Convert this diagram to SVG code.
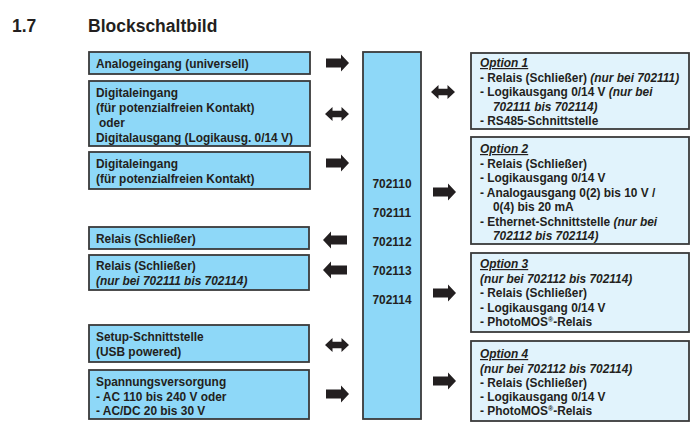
<svg xmlns="http://www.w3.org/2000/svg" width="691" height="428" viewBox="0 0 691 428">
<style>
text{font-family:"Liberation Sans",Arial,Helvetica,sans-serif;font-weight:bold;fill:#231f20;font-size:11.9px}
.title{font-size:17.5px}
.in{fill:#8ed8f8;stroke:#3a3a3a;stroke-width:1.8}
.opt{fill:#e1f3fc;stroke:#3a3a3a;stroke-width:1.8}
.it{font-style:italic}
.u{font-style:italic;text-decoration:underline}
.arr{fill:#231f20}
.sup{font-size:7px}
</style>
<defs>
<path id="ar" d="M0,-4.5 H15 V-8.5 L23,0 L15,8.5 V4.5 H0 Z"/>
<path id="al" d="M0,0 L8,-8.5 V-4.5 H24 V4.5 H8 V8.5 Z"/>
<path id="ad" d="M0,0 L7.5,-7 V-3.2 H16.5 V-7 L24,0 L16.5,7 V3.2 H7.5 V7 Z"/>
</defs>
<text class="title" x="12" y="32">1.7</text>
<text class="title" x="88" y="32">Blockschaltbild</text>

<g id="in1"><rect class="in" x="89" y="52" width="221" height="22"/><text x="96" y="67.5">Analogeingang (universell)</text></g>
<g id="in2"><rect class="in" x="89" y="81" width="221" height="65"/>
<text x="96" y="96.5">Digitaleingang</text><text x="96" y="111.5">(für potenzialfreien Kontakt)</text><text x="99" y="126.5">oder</text><text x="96" y="141.5">Digitalausgang (Logikausg. 0/14 V)</text></g>
<g id="in3"><rect class="in" x="89" y="152" width="221" height="37"/>
<text x="96" y="167.5">Digitaleingang</text><text x="96" y="182.5">(für potenzialfreien Kontakt)</text></g>
<g id="out1"><rect class="in" x="89" y="227" width="220" height="22"/><text x="96" y="242.5">Relais (Schließer)</text></g>
<g id="out2"><rect class="in" x="89" y="255" width="220" height="35"/>
<text x="96" y="270">Relais (Schließer)</text><text class="it" x="96" y="284.5">(nur bei 702111 bis 702114)</text></g>
<g id="setup"><rect class="in" x="89" y="325" width="220" height="37"/>
<text x="96" y="341">Setup-Schnittstelle</text><text x="96" y="356">(USB powered)</text></g>
<g id="power"><rect class="in" x="89" y="370" width="220" height="49"/>
<text x="96" y="385.5">Spannungsversorgung</text><text x="96" y="400.5">- AC 110 bis 240 V oder</text><text x="96" y="415">- AC/DC 20 bis 30 V</text></g>

<g id="device"><rect class="in" x="363" y="52" width="58" height="367"/>
<text x="392" y="188" text-anchor="middle">702110</text>
<text x="392" y="217" text-anchor="middle">702111</text>
<text x="392" y="246" text-anchor="middle">702112</text>
<text x="392" y="275" text-anchor="middle">702113</text>
<text x="392" y="304" text-anchor="middle">702114</text></g>

<g id="opt1"><rect class="opt" x="471" y="53" width="218" height="76"/>
<text class="u" x="480" y="67">Option 1</text>
<text x="480" y="81.5">- Relais (Schließer) <tspan class="it">(nur bei 702111)</tspan></text>
<text x="480" y="96">- Logikausgang 0/14 V <tspan class="it">(nur bei</tspan></text>
<text class="it" x="493" y="110.5">702111 bis 702114)</text>
<text x="480" y="125">- RS485-Schnittstelle</text></g>
<g id="opt2"><rect class="opt" x="471" y="137" width="218" height="107"/>
<text class="u" x="480" y="153">Option 2</text>
<text x="480" y="167.5">- Relais (Schließer)</text>
<text x="480" y="182">- Logikausgang 0/14 V</text>
<text x="480" y="196.5">- Analogausgang 0(2) bis 10 V /</text>
<text x="493" y="211">0(4) bis 20 mA</text>
<text x="480" y="225.5">- Ethernet-Schnittstelle <tspan class="it">(nur bei</tspan></text>
<text class="it" x="493" y="240">702112 bis 702114)</text></g>
<g id="opt3"><rect class="opt" x="471" y="253" width="218" height="79"/>
<text class="u" x="480" y="268">Option 3</text>
<text class="it" x="480" y="282.5">(nur bei 702112 bis 702114)</text>
<text x="480" y="297">- Relais (Schließer)</text>
<text x="480" y="311.5">- Logikausgang 0/14 V</text>
<text x="480" y="326">- PhotoMOS<tspan class="sup" dy="-4.5">®</tspan><tspan dy="4.5">-Relais</tspan></text></g>
<g id="opt4"><rect class="opt" x="471" y="341" width="218" height="80"/>
<text class="u" x="480" y="358">Option 4</text>
<text class="it" x="480" y="372.5">(nur bei 702112 bis 702114)</text>
<text x="480" y="387">- Relais (Schließer)</text>
<text x="480" y="401">- Logikausgang 0/14 V</text>
<text x="480" y="415">- PhotoMOS<tspan class="sup" dy="-4.5">®</tspan><tspan dy="4.5">-Relais</tspan></text></g>

<g id="connectors" class="arr">
<use href="#ar" x="326" y="63"/>
<use href="#ad" x="325" y="114"/>
<use href="#ar" x="326" y="163"/>
<use href="#al" x="323" y="240"/>
<use href="#al" x="323" y="270"/>
<use href="#ad" x="325" y="345"/>
<use href="#ar" x="326" y="394"/>
<use href="#ad" x="431" y="92"/>
<use href="#ar" x="433" y="192"/>
<use href="#ar" x="433" y="293"/>
<use href="#ar" x="433" y="381"/>
</g>
</svg>
